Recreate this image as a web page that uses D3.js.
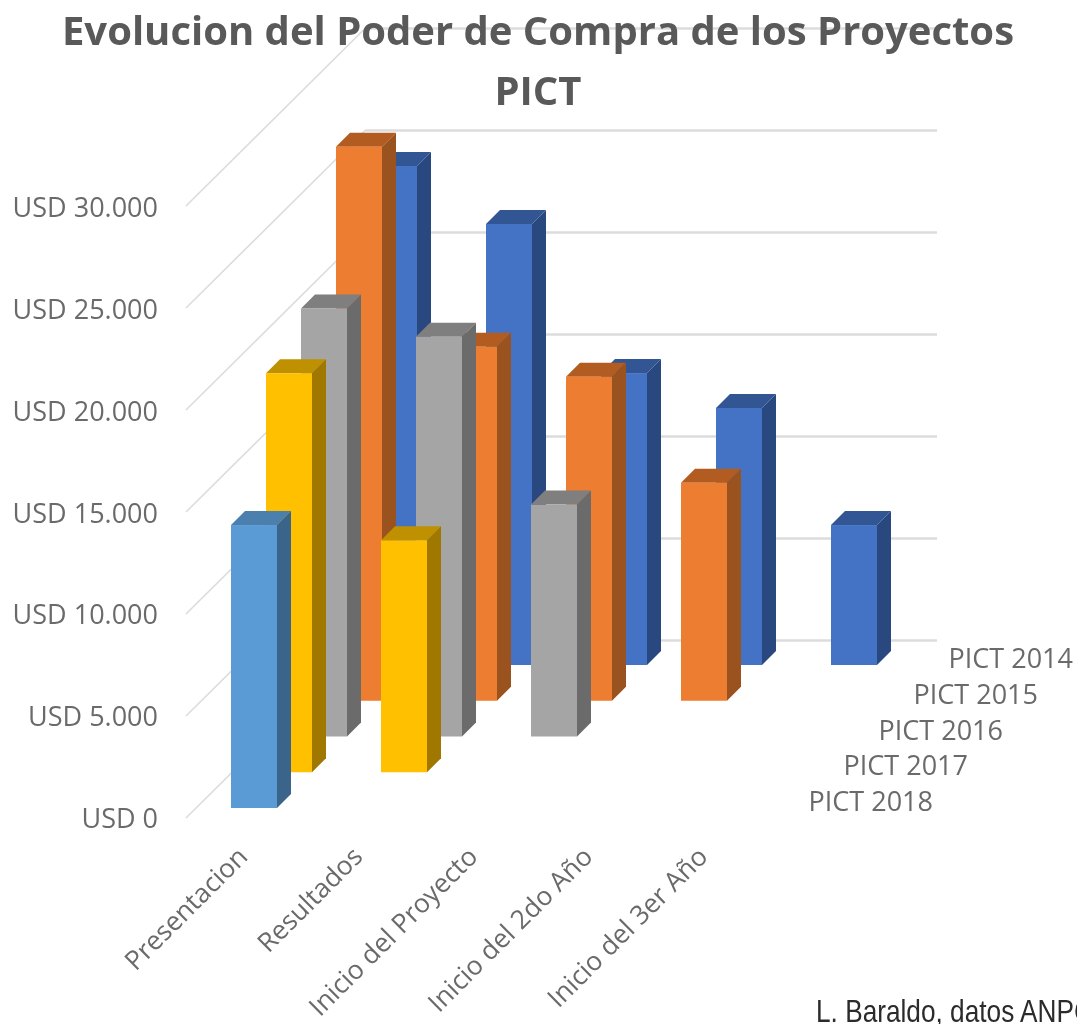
<!DOCTYPE html>
<html><head><meta charset="utf-8">
<script src="https://cdnjs.cloudflare.com/ajax/libs/d3/7.8.5/d3.min.js"></script>
<style>html,body{margin:0;padding:0;background:#fff;overflow:hidden}svg{display:block;filter:blur(0.45px)}</style>
</head><body><div id="chart"></div>
<script>
const categories = ["Presentacion","Resultados","Inicio del Proyecto","Inicio del 2do Año","Inicio del 3er Año"];
const seriesNames = ["PICT 2014","PICT 2015","PICT 2016","PICT 2017","PICT 2018"];
const pict2014 = [24460,21620,14310,12600,6860];
const pict2015 = [27160,17350,15880,10690];
const pict2016 = [20980,19600,11370];
const pict2017 = [19560,11370];
const pict2018 = [13870];
const tickValues = [0,5000,10000,15000,20000,25000,30000];
const tickLabels = ["USD 0","USD 5.000","USD 10.000","USD 15.000","USD 20.000","USD 25.000","USD 30.000"];
const seriesValues = [pict2014,pict2015,pict2016,pict2017,pict2018];
const faceColors = ["#4472C4","#ED7D31","#A5A5A5","#FFC000","#5B9BD5"];
const sideColors = ["#2A4880","#9A521E","#6B6B6B","#A07800","#3A6489"];
const topColors  = ["#325594","#B25C22","#7F7F7F","#BF9000","#4A7FAE"];

const W=1077,H=1024;
const svg=d3.select("#chart").append("svg").attr("width",W).attr("height",H).attr("viewBox",`0 0 ${W} ${H}`);
const FONT="'Open Sans',sans-serif", TXT="#6a6a6a", GRID="#dcdcdc";

const barW=46, sideD=14;
const xCat=d3.scaleBand().domain(categories).range([231,231+115*5]).paddingInner(0).paddingOuter(0);
const depthX=d3.scalePoint().domain(seriesNames).range([140,0]);
const depthY=d3.scalePoint().domain(seriesNames).range([-143,0]);
const yVal=d3.scaleLinear().domain([0,30000]).range([808,196]);
const yLabel=d3.scaleLinear().domain([0,30000]).range([828,217]);

// walls
const wall=svg.append("g").attr("fill","none").attr("stroke",GRID);
const wallBack={x:365,dy:-167.5}, wallFront={x:186,dy:10};
wall.selectAll("line.back").data(tickValues).join("line").attr("class","back")
  .attr("x1",wallBack.x).attr("x2",937)
  .attr("y1",d=>yVal(d)+wallBack.dy).attr("y2",d=>yVal(d)+wallBack.dy).attr("stroke-width",2.4);
wall.selectAll("line.side").data(tickValues).join("line").attr("class","side")
  .attr("x1",wallFront.x).attr("x2",wallBack.x)
  .attr("y1",d=>yVal(d)+wallFront.dy).attr("y2",d=>yVal(d)+wallBack.dy).attr("stroke-width",1.6);

// title
const title=svg.append("g").attr("font-family",FONT).attr("font-weight",700).attr("fill","#595959").attr("font-size",40).attr("text-anchor","middle");
title.append("text").attr("x",538).attr("y",45).text("Evolucion del Poder de Compra de los Proyectos");
title.append("text").attr("x",538).attr("y",105).text("PICT");

// bars, back series first
seriesNames.forEach((name,si)=>{
  const g=svg.append("g").attr("class","series");
  const rows=seriesValues[si].map((v,ci)=>({v,cat:categories[ci]}));
  const x0=d=>xCat(d.cat)+depthX(name);
  const y0=depthY(name);
  const bars=g.selectAll("g").data(rows).join("g");
  bars.append("path").attr("fill",topColors[si]).attr("d",d=>{
    const x=x0(d),t=yVal(d.v)+y0;
    return `M${x},${t}L${x+sideD},${t-sideD}H${x+barW+sideD}L${x+barW},${t}Z`;});
  bars.append("path").attr("fill",sideColors[si]).attr("d",d=>{
    const x=x0(d)+barW,t=yVal(d.v)+y0,b=yVal(0)+y0;
    return `M${x},${t}L${x+sideD},${t-sideD}V${b-sideD}L${x},${b}Z`;});
  bars.append("rect").attr("fill",faceColors[si])
    .attr("x",x0).attr("y",d=>yVal(d.v)+y0).attr("width",barW).attr("height",d=>yVal(0)-yVal(d.v));
});

// value labels
svg.append("g").attr("font-family",FONT).attr("font-size",27).attr("fill",TXT).attr("text-anchor","end")
  .selectAll("text").data(tickValues).join("text")
  .attr("x",158).attr("y",d=>yLabel(d)).text((d,i)=>tickLabels[i]);

// category labels
svg.append("g").attr("font-family",FONT).attr("font-size",26.4).attr("fill",TXT).attr("text-anchor","end")
  .selectAll("text").data(categories).join("text")
  .attr("transform",d=>`translate(${xCat(d)+7},847) rotate(-45)`)
  .attr("dy","0.6em").text(d=>d);

// series labels
svg.append("g").attr("font-family",FONT).attr("font-size",27).attr("fill",TXT).attr("text-anchor","end")
  .selectAll("text").data(seriesNames).join("text")
  .attr("x",d=>933+depthX(d))
  .attr("y",d=>811+depthY(d)).text(d=>d);

// credit
svg.append("text").attr("transform","translate(816,1022) scale(0.86,1)").attr("font-family","'Liberation Sans',sans-serif")
  .attr("font-size",30.5).attr("fill","#2b2b2b").text("L. Baraldo, datos ANPC");
</script></body></html>
